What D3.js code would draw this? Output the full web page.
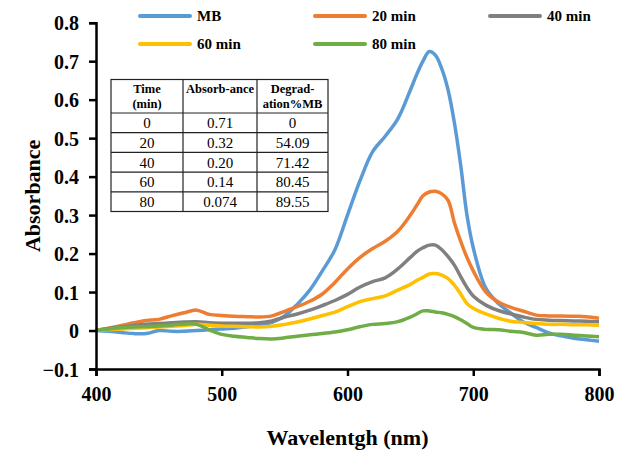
<!DOCTYPE html>
<html>
<head>
<meta charset="utf-8">
<script src="https://cdn.jsdelivr.net/npm/d3@7"></script>
<style>
  body { margin: 0; background: #fff; }
  svg, svg text { font-family: "Liberation Serif", "DejaVu Serif", serif; }
</style>
</head>
<body>
<svg id="chart" width="626" height="451"></svg>
<script>
// wavelengths (nm): 10 nm steps, 5 nm steps around the peak
const wavelengths = [400, 410, 420, 430, 440, 450, 460, 470, 480, 490,
  500, 510, 520, 530, 540, 550, 560, 570, 580, 590,
  600, 610, 620, 630, 640, 650, 655, 660, 665, 670,
  675, 680, 685, 690, 695, 700, 710, 720, 730, 740,
  750, 760, 770, 780, 790, 800];

const mb = [0, -0.002, -0.005, -0.008, -0.008, 0.0, -0.002, -0.002, 0.0, 0.002,
  0.004, 0.006, 0.01, 0.014, 0.021, 0.038, 0.068, 0.105, 0.155, 0.21,
  0.30, 0.39, 0.465, 0.505, 0.55, 0.625, 0.665, 0.70, 0.725, 0.715,
  0.68, 0.625, 0.54, 0.43, 0.3, 0.215, 0.11, 0.07, 0.045, 0.022,
  0.008, -0.006, -0.014, -0.02, -0.024, -0.028];

const min20 = [0, 0.006, 0.013, 0.02, 0.026, 0.029, 0.038, 0.046, 0.053, 0.042,
  0.039, 0.037, 0.036, 0.035, 0.038, 0.05, 0.062, 0.076, 0.095, 0.125,
  0.16, 0.19, 0.213, 0.232, 0.258, 0.3, 0.325, 0.35, 0.36, 0.362,
  0.355, 0.338, 0.28, 0.232, 0.19, 0.155, 0.1, 0.074, 0.06, 0.05,
  0.04, 0.038, 0.038, 0.037, 0.036, 0.032];

const min40 = [0, 0.005, 0.009, 0.013, 0.016, 0.018, 0.02, 0.022, 0.023, 0.02,
  0.019, 0.019, 0.019, 0.02, 0.025, 0.035, 0.043, 0.053, 0.065, 0.078,
  0.094, 0.113, 0.127, 0.137, 0.16, 0.19, 0.205, 0.215, 0.222, 0.222,
  0.21, 0.192, 0.17, 0.14, 0.112, 0.09, 0.066, 0.052, 0.043, 0.035,
  0.029, 0.027, 0.026, 0.025, 0.024, 0.023];

const min60 = [0, 0.002, 0.004, 0.006, 0.007, 0.009, 0.011, 0.013, 0.016, 0.014,
  0.012, 0.011, 0.01, 0.009, 0.011, 0.016, 0.022, 0.03, 0.039, 0.048,
  0.062, 0.075, 0.083, 0.09, 0.105, 0.12, 0.13, 0.138, 0.147, 0.148,
  0.144, 0.135, 0.118, 0.095, 0.07, 0.058, 0.043, 0.032, 0.024, 0.021,
  0.018, 0.016, 0.016, 0.015, 0.015, 0.014];

const min80 = [0, 0.004, 0.007, 0.009, 0.01, 0.012, 0.014, 0.017, 0.016, 0.002,
  -0.01, -0.015, -0.018, -0.021, -0.022, -0.019, -0.015, -0.011, -0.008, -0.004,
  0.002, 0.01, 0.016, 0.018, 0.023, 0.035, 0.043, 0.051, 0.051, 0.048,
  0.046, 0.042, 0.036, 0.028, 0.018, 0.008, 0.003, 0.002, -0.002, -0.005,
  -0.012, -0.01, -0.01, -0.012, -0.014, -0.016];

const seriesNames = ['MB', '20 min', '40 min', '60 min', '80 min'];
const seriesColors = ['#5B9BD5', '#ED7D31', '#808080', '#FFC000', '#70AD47'];
const seriesValues = [mb, min20, min40, min60, min80];

// inset table
const tableHeader = [['Time', '(min)'], ['Absorb-ance'], ['Degrad-', 'ation%MB']];
const tableTime = ['0', '20', '40', '60', '80'];
const tableAbs = ['0.71', '0.32', '0.20', '0.14', '0.074'];
const tableDeg = ['0', '54.09', '71.42', '80.45', '89.55'];

const svg = d3.select('#chart');
const margin = { left: 96, right: 27, top: 22.7, bottom: 82 };
const width = 626, height = 451;

const x = d3.scaleLinear().domain([400, 800]).range([margin.left, width - margin.right]);
const y = d3.scaleLinear().domain([-0.1, 0.8]).range([height - margin.bottom, margin.top]);

// lines (drawn first so the table sits on top)
const line = d3.line()
  .x((d, i) => x(wavelengths[i]))
  .y(d => y(d))
  .curve(d3.curveCatmullRom);

svg.append('g')
  .selectAll('path')
  .data(seriesValues)
  .join('path')
  .attr('d', d => line(d))
  .attr('fill', 'none')
  .attr('stroke', (d, i) => seriesColors[i])
  .attr('stroke-width', 3.5)
  .attr('stroke-linejoin', 'round');

// axes
const xAxis = svg.append('g')
  .attr('transform', `translate(0,${y(-0.1)})`)
  .call(d3.axisBottom(x).tickValues([400, 500, 600, 700, 800]).tickSize(7).tickPadding(11));

const yAxis = svg.append('g')
  .attr('transform', `translate(${x(400)},0)`)
  .call(d3.axisLeft(y).tickValues(d3.range(-1, 9).map(v => v / 10)).tickSize(7).tickPadding(10)
    .tickFormat(d => d === 0 ? '0' : d3.format('.1f')(d)));

[xAxis, yAxis].forEach(g => {
  g.attr('font-family', null).attr('font-size', null);
  g.select('.domain').attr('stroke', '#000').attr('stroke-width', 2.5);
  g.selectAll('.tick line').attr('stroke', '#000').attr('stroke-width', 2.5);
  g.selectAll('.tick text')
    .attr('fill', '#000')
    .style('font-size', '20px')
    .style('font-weight', 'bold');
});
yAxis.selectAll('.tick text').attr('dy', '0.35em');

// axis titles
svg.append('text')
  .attr('x', (x(400) + x(800)) / 2)
  .attr('y', 445)
  .attr('text-anchor', 'middle')
  .style('font-size', '22px')
  .style('font-weight', 'bold')
  .text('Wavelentgh (nm)');

svg.append('text')
  .attr('transform', `translate(40,${(y(-0.1) + y(0.8)) / 2}) rotate(-90)`)
  .attr('text-anchor', 'middle')
  .style('font-size', '22px')
  .style('font-weight', 'bold')
  .text('Absorbance');

// legend
const legendPos = [[140, 16], [315, 16], [490, 16], [140, 44], [315, 44]];
const legend = svg.append('g')
  .selectAll('g')
  .data(seriesNames)
  .join('g')
  .attr('transform', (d, i) => `translate(${legendPos[i][0]},${legendPos[i][1]})`);

legend.append('line')
  .attr('x1', 0).attr('x2', 50)
  .attr('stroke', (d, i) => seriesColors[i])
  .attr('stroke-width', 4)
  .attr('stroke-linecap', 'round');

legend.append('text')
  .attr('x', 57)
  .attr('dy', '0.35em')
  .style('font-size', '15px')
  .style('font-weight', 'bold')
  .text(d => d);

// table
const colX = [111, 183, 257, 328];
const rowY = [79.5, 113, 132.7, 152.4, 172.1, 191.8, 211.5];
const table = svg.append('g');

table.append('rect')
  .attr('x', colX[0]).attr('y', rowY[0])
  .attr('width', colX[3] - colX[0]).attr('height', rowY[6] - rowY[0])
  .attr('fill', '#fff').attr('stroke', '#222').attr('stroke-width', 1.2);

colX.slice(1, 3).forEach(cx => {
  table.append('line').attr('x1', cx).attr('x2', cx).attr('y1', rowY[0]).attr('y2', rowY[6])
    .attr('stroke', '#222').attr('stroke-width', 1.2);
});
rowY.slice(1, 6).forEach(ry => {
  table.append('line').attr('x1', colX[0]).attr('x2', colX[3]).attr('y1', ry).attr('y2', ry)
    .attr('stroke', '#222').attr('stroke-width', 1.2);
});

tableHeader.forEach((lines, c) => {
  lines.forEach((t, k) => {
    table.append('text')
      .attr('x', (colX[c] + colX[c + 1]) / 2)
      .attr('y', rowY[0] + 13 + k * 15)
      .attr('text-anchor', 'middle')
      .style('font-size', '12.5px')
      .style('font-weight', 'bold')
      .text(t);
  });
});

[tableTime, tableAbs, tableDeg].forEach((col, c) => {
  col.forEach((t, r) => {
    table.append('text')
      .attr('x', (colX[c] + colX[c + 1]) / 2)
      .attr('y', (rowY[r + 1] + rowY[r + 2]) / 2)
      .attr('dy', '0.35em')
      .attr('text-anchor', 'middle')
      .style('font-size', '15px')
      .text(t);
  });
});
</script>
</body>
</html>
